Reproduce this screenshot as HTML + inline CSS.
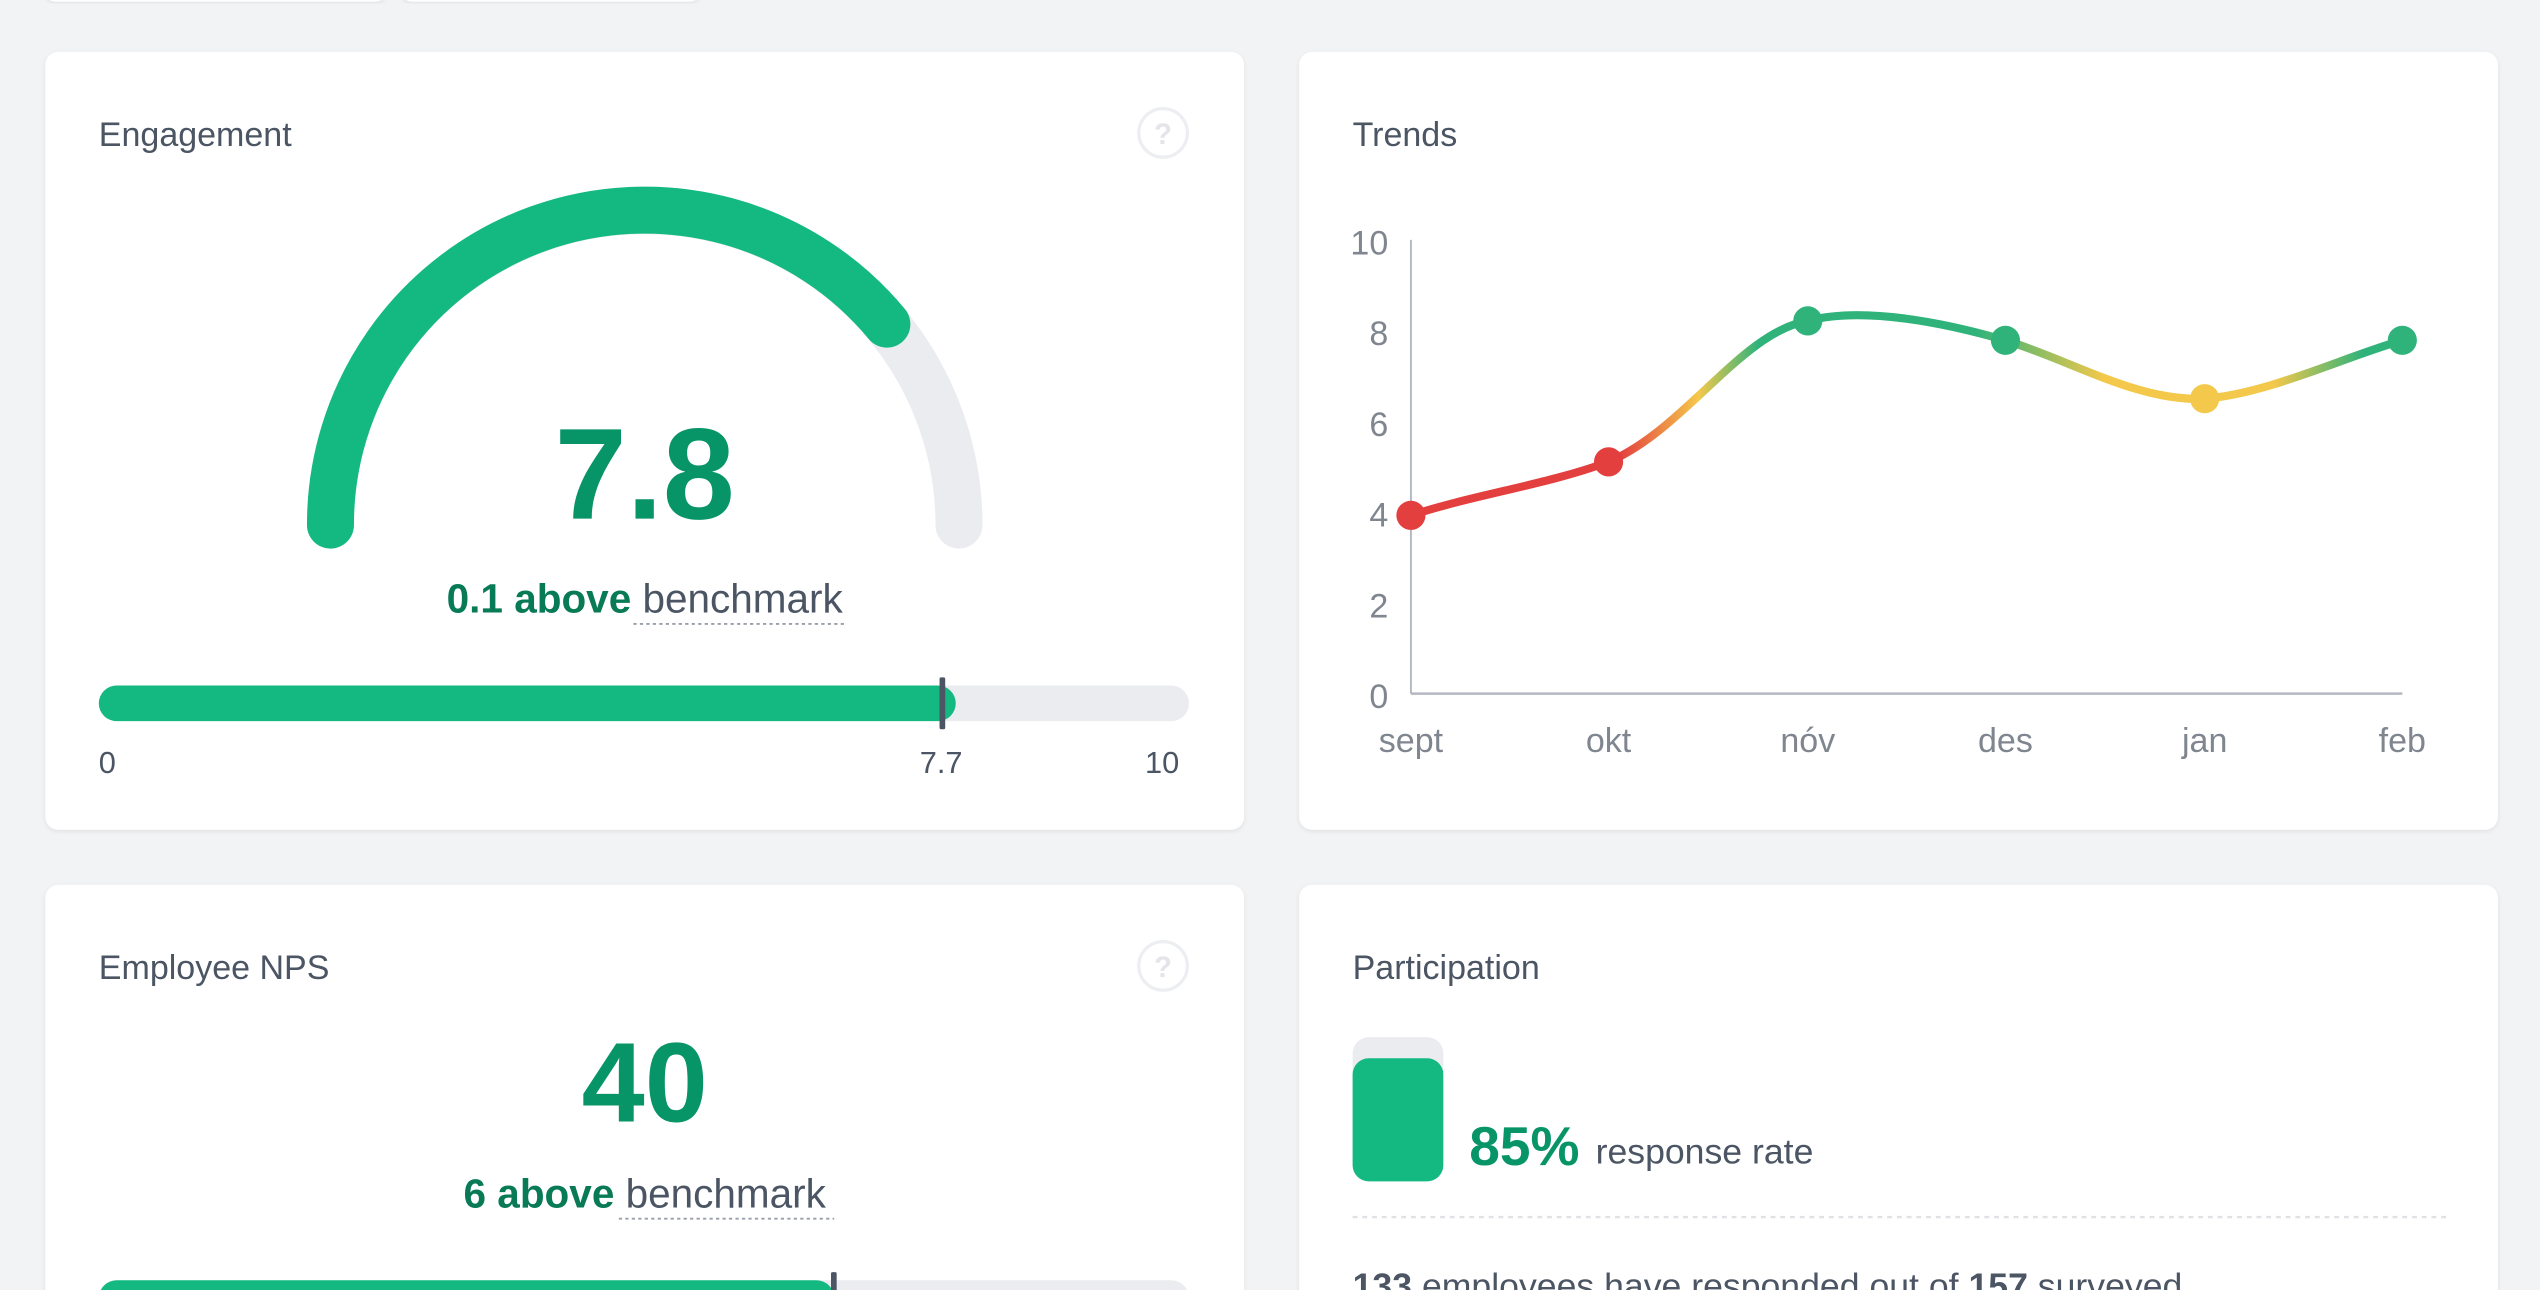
<!DOCTYPE html>
<html><head><meta charset="utf-8"><style>
html,body{margin:0;padding:0;background:#f2f3f5;width:2540px;height:1290px;overflow:hidden;}
svg{display:block;}
text{font-family:"Liberation Sans",sans-serif;}
</style></head><body>
<svg width="2540" height="1290" viewBox="0 0 1568 796" preserveAspectRatio="none" xmlns="http://www.w3.org/2000/svg">
<defs>
<filter id="sh" x="-5%" y="-5%" width="110%" height="110%"><feDropShadow dx="0" dy="1" stdDeviation="1.5" flood-color="#000" flood-opacity="0.08"/></filter>
<linearGradient id="lg" gradientUnits="userSpaceOnUse" x1="871" y1="0" x2="1483" y2="0">
<stop offset="0" stop-color="#e43f3f"/>
<stop offset="0.21" stop-color="#e43f3f"/>
<stop offset="0.29" stop-color="#f4c84a"/>
<stop offset="0.35" stop-color="#2fb37a"/>
<stop offset="0.57" stop-color="#2fb37a"/>
<stop offset="0.70" stop-color="#f4c84a"/>
<stop offset="0.87" stop-color="#f4c84a"/>
<stop offset="0.96" stop-color="#2fb37a"/>
<stop offset="1" stop-color="#2fb37a"/>
</linearGradient>
</defs>
<rect width="1568" height="796" fill="#f2f3f5"/>
<rect x="28" y="-20" width="210" height="21" rx="6" fill="#fff" filter="url(#sh)"/>
<rect x="248" y="-20" width="184" height="21" rx="6" fill="#fff" filter="url(#sh)"/>
<rect x="28" y="32" width="740" height="480" rx="8" fill="#fff" filter="url(#sh)"/>
<rect x="802" y="32" width="740" height="480" rx="8" fill="#fff" filter="url(#sh)"/>
<rect x="28" y="546" width="740" height="260" rx="8" fill="#fff" filter="url(#sh)"/>
<rect x="802" y="546" width="740" height="260" rx="8" fill="#fff" filter="url(#sh)"/>

<!-- Engagement -->
<text x="61" y="90" font-size="21" fill="#4b5563">Engagement</text>
<circle cx="718" cy="82" r="15" fill="#fff" stroke="#eceef1" stroke-width="2"/>
<text x="718" y="89" font-size="18" font-weight="bold" fill="#e3e5e9" text-anchor="middle">?</text>
<path d="M204,324 A194,194 0 0 1 592,324" fill="none" stroke="#ebecf0" stroke-width="29" stroke-linecap="round"/>
<path d="M204,324 A194,194 0 0 1 547.5,200" fill="none" stroke="#13b981" stroke-width="29" stroke-linecap="round"/>
<text x="398" y="320" font-size="80" font-weight="bold" fill="#079467" text-anchor="middle">7.8</text>
<text x="398" y="378" font-size="25" text-anchor="middle"><tspan font-weight="bold" fill="#087a55">0.1 above</tspan><tspan fill="#4b5563"> benchmark</tspan></text>
<line x1="391" y1="385" x2="522" y2="385" stroke="#9aa0aa" stroke-width="1.2" stroke-dasharray="2,2"/>
<rect x="61" y="423" width="673" height="22" rx="11" fill="#ebecf0"/>
<rect x="61" y="423" width="529" height="22" rx="11" fill="#13b981"/>
<rect x="580" y="418" width="3.5" height="32" rx="1" fill="#4b5563"/>
<text x="61" y="477" font-size="19" fill="#4b5563">0</text>
<text x="581" y="477" font-size="19" fill="#4b5563" text-anchor="middle">7.7</text>
<text x="728" y="477" font-size="19" fill="#4b5563" text-anchor="end">10</text>

<!-- Trends -->
<text x="835" y="90" font-size="21" fill="#4b5563">Trends</text>
<line x1="871" y1="148" x2="871" y2="428" stroke="#b4b8c0" stroke-width="1.2"/>
<line x1="871" y1="428" x2="1483" y2="428" stroke="#b4b8c0" stroke-width="1.5"/>
<g font-size="21" fill="#80868f" text-anchor="end">
<text x="857" y="157">10</text><text x="857" y="213">8</text><text x="857" y="269">6</text>
<text x="857" y="325">4</text><text x="857" y="381">2</text><text x="857" y="437">0</text>
</g>
<g font-size="21" fill="#80868f" text-anchor="middle">
<text x="871" y="464">sept</text><text x="993" y="464">okt</text><text x="1116" y="464">nóv</text>
<text x="1238" y="464">des</text><text x="1361" y="464">jan</text><text x="1483" y="464">feb</text>
</g>
<path d="M871,318 C911,305 955,299 993,285 C1040,265 1075,205 1116,198 C1150,189 1200,199 1238,210 C1280,223 1320,248 1361,246 C1400,243 1445,221 1483,210" fill="none" stroke="url(#lg)" stroke-width="5" stroke-linecap="round"/>
<circle cx="871" cy="318" r="9" fill="#e43f3f"/>
<circle cx="993" cy="285" r="9" fill="#e43f3f"/>
<circle cx="1116" cy="198" r="9" fill="#2fb37a"/>
<circle cx="1238" cy="210" r="9" fill="#2fb37a"/>
<circle cx="1361" cy="246" r="9" fill="#f4c84a"/>
<circle cx="1483" cy="210" r="9" fill="#2fb37a"/>

<!-- Employee NPS -->
<text x="61" y="604" font-size="21" fill="#4b5563">Employee NPS</text>
<circle cx="718" cy="596" r="15" fill="#fff" stroke="#eceef1" stroke-width="2"/>
<text x="718" y="603" font-size="18" font-weight="bold" fill="#e3e5e9" text-anchor="middle">?</text>
<text x="398" y="692" font-size="70" font-weight="bold" fill="#079467" text-anchor="middle">40</text>
<text x="398" y="745" font-size="25" text-anchor="middle"><tspan font-weight="bold" fill="#087a55">6 above</tspan><tspan fill="#4b5563"> benchmark</tspan></text>
<line x1="382" y1="752" x2="515" y2="752" stroke="#9aa0aa" stroke-width="1.2" stroke-dasharray="2,2"/>
<rect x="61" y="790" width="673" height="22" rx="11" fill="#ebecf0"/>
<rect x="61" y="790" width="454" height="22" rx="11" fill="#13b981"/>
<rect x="513" y="785" width="3.5" height="32" rx="1" fill="#4b5563"/>

<!-- Participation -->
<text x="835" y="604" font-size="21" fill="#4b5563">Participation</text>
<rect x="835" y="640" width="56" height="89" rx="10" fill="#ebecf0"/>
<rect x="835" y="653" width="56" height="76" rx="10" fill="#13b981"/>
<text x="907" y="719" font-size="34" font-weight="bold" fill="#079467">85%</text>
<text x="985" y="718" font-size="22" fill="#4b5563">response rate</text>
<line x1="835" y1="751" x2="1510" y2="751" stroke="#dfe1e5" stroke-width="1.5" stroke-dasharray="3,3"/>
<text x="835" y="801" font-size="22" fill="#4b5563"><tspan font-weight="bold">133</tspan> employees have responded out of <tspan font-weight="bold">157</tspan> surveyed</text>
</svg>
</body></html>
